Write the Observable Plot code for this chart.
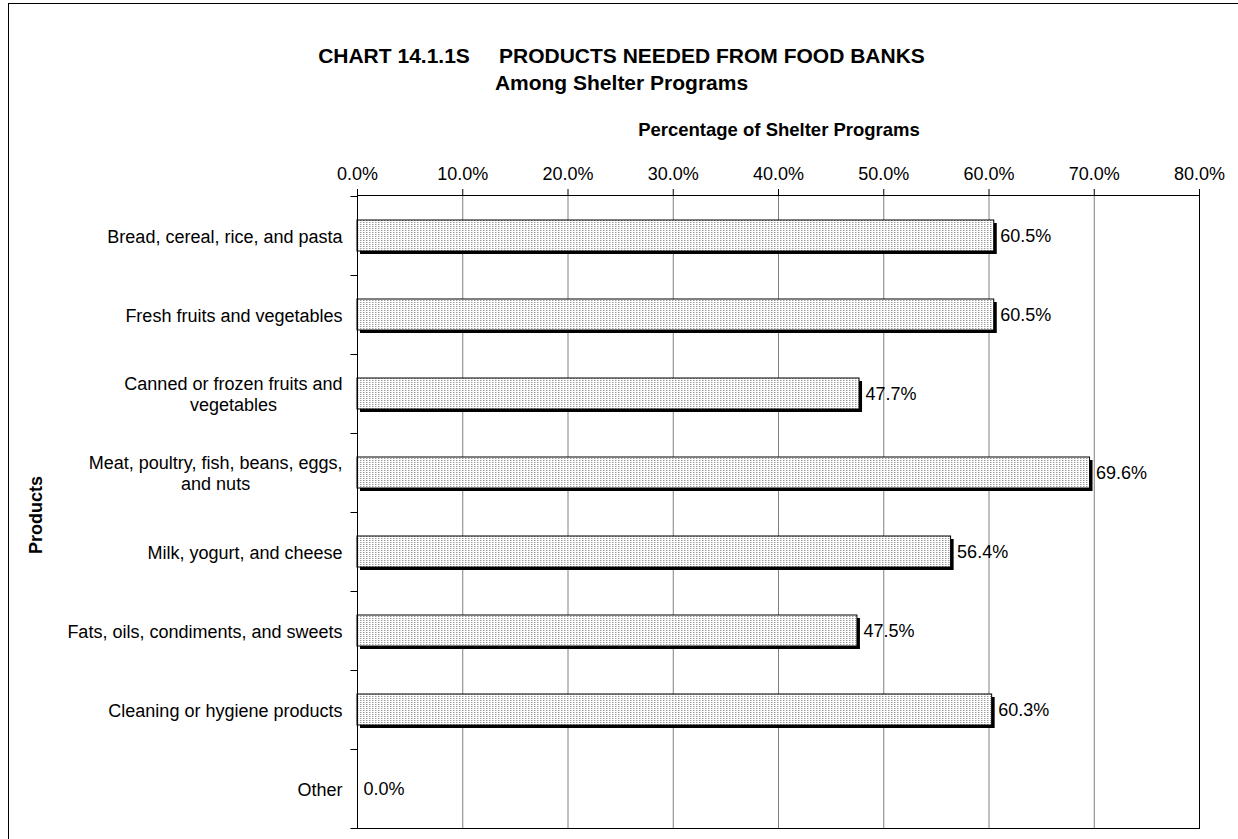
<!DOCTYPE html>
<html>
<head>
<meta charset="utf-8">
<script src="https://cdn.jsdelivr.net/npm/d3@7"></script>
<script src="https://cdn.jsdelivr.net/npm/@observablehq/plot@0.6"></script>
<style>
  html, body { margin: 0; padding: 0; background: #fff; overflow: hidden; }
  #wrap { position: relative; width: 1238px; height: 839px; font-family: "Liberation Sans", Arial, sans-serif; color: #000; overflow: hidden; }
  #border { position: absolute; left: 8px; top: 3px; width: 1400px; height: 1000px; border-left: 1.5px solid #000; border-top: 1.5px solid #000; box-sizing: border-box; }
  .ttl { position: absolute; text-align: center; font-weight: bold; white-space: pre; line-height: 1; }
  #chart { position: absolute; left: 0; top: 0; }
  .patbar rect { fill: url(#dots); }
</style>
</head>
<body>
<div id="wrap">
  <div id="border"></div>
  <div id="chart"></div>
  <div class="ttl" id="title" style="left:0;width:1243px;top:45px;font-size:21px;"></div>
  <div class="ttl" id="subtitle" style="left:0;width:1243px;top:72px;font-size:21px;"></div>
  <div class="ttl" id="xlabel" style="left:479px;width:600px;top:121px;font-size:18.5px;"></div>
  <div class="ttl" id="ylabel" style="left:36px;top:515px;font-size:18px;transform:translate(-50%,-50%) rotate(-90deg);"></div>
</div>
<script>
// ---- Data ----
const titleText = "CHART 14.1.1S     PRODUCTS NEEDED FROM FOOD BANKS";
const subtitleText = "Among Shelter Programs";
const xAxisTitle = "Percentage of Shelter Programs";
const yAxisTitle = "Products";

const categories = [
  "Bread, cereal, rice, and pasta",
  "Fresh fruits and vegetables",
  "Canned or frozen fruits and vegetables",
  "Meat, poultry, fish, beans, eggs, and nuts",
  "Milk, yogurt, and cheese",
  "Fats, oils, condiments, and sweets",
  "Cleaning or hygiene products",
  "Other"
];
const categoryLabels = [
  "Bread, cereal, rice, and pasta",
  "Fresh fruits and vegetables",
  "Canned or frozen fruits and\nvegetables",
  "Meat, poultry, fish, beans, eggs,\nand nuts",
  "Milk, yogurt, and cheese",
  "Fats, oils, condiments, and sweets",
  "Cleaning or hygiene products",
  "Other"
];
const values = [60.5, 60.5, 47.7, 69.6, 56.4, 47.5, 60.3, 0.0];
const xTicks = [0, 10, 20, 30, 40, 50, 60, 70, 80];

// ---- Build ----
document.getElementById("title").textContent = titleText;
document.getElementById("subtitle").textContent = subtitleText;
document.getElementById("xlabel").textContent = xAxisTitle;
document.getElementById("ylabel").textContent = yAxisTitle;

const data = categories.map((c, i) => ({category: c, value: values[i]}));
const labelMap = new Map(categories.map((c, i) => [c, categoryLabels[i]]));
const pct = d => d.toFixed(1) + "%";

// tick marks at band boundaries, drawn from the y band scale
function bandBoundaryTicks(index, scales, values, dimensions) {
  const y = scales.y;
  const dom = y.domain();
  const edges = dom.map(d => y(d));
  edges.push(y(dom[dom.length - 1]) + y.bandwidth());
  const x0 = dimensions.marginLeft;
  const g = d3.create("svg:g").attr("stroke", "black").attr("transform", "translate(0.5,0.5)");
  g.selectAll("line").data(edges).join("line")
    .attr("x1", x0 - 7).attr("x2", x0)
    .attr("y1", d => Math.round(d)).attr("y2", d => Math.round(d));
  return g.node();
}

const plot = Plot.plot({
  width: 1238,
  height: 839,
  marginLeft: 357,
  marginRight: 39,
  marginTop: 195,
  marginBottom: 11,
  style: {fontFamily: "'Liberation Sans', Arial, sans-serif", fontSize: "18px", color: "#000", background: "transparent"},
  x: {domain: [0, 80]},
  y: {type: "band", domain: categories, padding: 0, axis: null},
  marks: [
    Plot.gridX(xTicks, {stroke: "#808080", strokeOpacity: 1}),
    Plot.barX(data, {x: "value", y: "category", insetTop: 24, insetBottom: 24, fill: "black", dx: 3, dy: 3}),
    Plot.barX(data, {x: "value", y: "category", insetTop: 24, insetBottom: 24, fill: "#e6e6e6", stroke: "black", strokeWidth: 1, className: "patbar"}),
    Plot.text(data, {x: "value", y: "category", text: d => pct(d.value), textAnchor: "start", dx: 6, fontSize: 18, fill: "black"}),
    Plot.frame({stroke: "black"}),
    Plot.axisX(xTicks, {anchor: "top", tickSize: 7, tickPadding: 9, tickFormat: pct, label: null, fontSize: 18}),
    Plot.axisY({tickSize: 0, tickPadding: 15, tickFormat: d => labelMap.get(d), label: null, fontSize: 18, lineHeight: 1.15}),
    bandBoundaryTicks
  ]
});

// dotted pattern for bar fill
const NS = "http://www.w3.org/2000/svg";
const defs = document.createElementNS(NS, "defs");
const pat = document.createElementNS(NS, "pattern");
pat.setAttribute("id", "dots");
pat.setAttribute("patternUnits", "userSpaceOnUse");
pat.setAttribute("width", "3");
pat.setAttribute("height", "2");
const bg = document.createElementNS(NS, "rect");
bg.setAttribute("width", "3"); bg.setAttribute("height", "2"); bg.setAttribute("fill", "#ffffff");
const dot = document.createElementNS(NS, "rect");
dot.setAttribute("width", "1"); dot.setAttribute("height", "1"); dot.setAttribute("fill", "#9a9a9a");
const dot2 = document.createElementNS(NS, "rect");
dot2.setAttribute("x", "1"); dot2.setAttribute("width", "1"); dot2.setAttribute("height", "1"); dot2.setAttribute("fill", "#d0d0d0");
pat.appendChild(bg); pat.appendChild(dot); pat.appendChild(dot2);
defs.appendChild(pat);
plot.insertBefore(defs, plot.firstChild);

document.getElementById("chart").appendChild(plot);

// center multi-line category labels within their right-aligned block
plot.querySelectorAll('g[aria-label="y-axis tick label"] text').forEach(t => {
  const spans = t.querySelectorAll("tspan");
  if (spans.length > 1) {
    const w = t.getBBox().width;
    t.setAttribute("text-anchor", "middle");
    spans.forEach(s => s.setAttribute("x", (-w / 2).toFixed(1)));
  }
});
</script>
</body>
</html>
